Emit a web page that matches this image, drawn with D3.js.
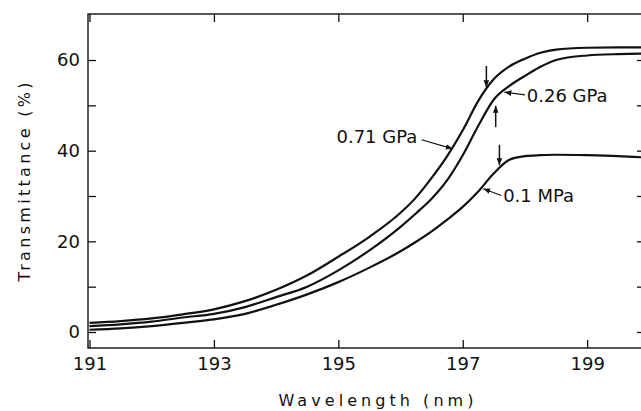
<!DOCTYPE html>
<html>
<head>
<meta charset="utf-8">
<script src="https://cdn.jsdelivr.net/npm/d3@7"></script>
<style>
  body { margin: 0; background: #fff; }
  svg { display: block; }
  text { font-family: "DejaVu Sans", sans-serif; fill: #111; }
</style>
</head>
<body>
<div id="chart"></div>
<script>
// wavelengths (nm)
const wavelengths = [191, 191.5, 192, 192.5, 193, 193.5, 194, 194.5, 195, 195.5, 196, 196.25, 196.5, 196.75, 197, 197.25, 197.5, 197.75, 198, 198.25, 198.5, 199, 199.5, 199.93];

// transmittance (%) for each pressure
const t071 = [2.0, 2.4, 3.0, 3.9, 5.0, 6.8, 9.3, 12.5, 16.6, 21.0, 26.3, 29.7, 34.0, 38.8, 44.5, 51.0, 55.8, 58.6, 60.3, 61.6, 62.3, 62.7, 62.8, 62.8];
const t026 = [1.3, 1.7, 2.3, 3.2, 4.0, 5.5, 7.7, 10.0, 13.6, 18.0, 23.2, 26.2, 29.4, 33.5, 39.0, 45.5, 51.3, 54.3, 56.5, 58.5, 60.0, 61.0, 61.3, 61.4];
const t01 = [0.5, 0.8, 1.3, 2.0, 2.8, 4.0, 6.0, 8.3, 11.0, 14.2, 17.8, 19.9, 22.2, 24.8, 27.6, 31.0, 35.0, 38.0, 38.8, 39.0, 39.1, 39.0, 38.8, 38.5];

const xTicks = [191, 193, 195, 197, 199];
const yTicks = [0, 10, 20, 30, 40, 50, 60];

// markers on the knees: [wavelength, tail T, tip T]
const arrows = [[197.38, 58.7, 54.0], [197.53, 45.2, 49.9], [197.59, 41.3, 36.8]];

// curve labels: text, text wl, text T, leader start wl/T, leader end wl/T
const labels = [
  ["0.71 GPa", 194.97, 41.6, 196.34, 42.4, 196.84, 40.4],
  ["0.26 GPa", 198.03, 50.8, 198.00, 52.3, 197.67, 52.9],
  ["0.1 MPa", 197.65, 28.7, 197.62, 30.1, 197.33, 31.6]
];

const W = 641, H = 411;
const svg = d3.select("#chart").append("svg")
  .attr("width", W).attr("height", H);

const x = d3.scaleLinear().domain([190.976, 199.93]).range([88, 645]);
const y = d3.scaleLinear().domain([-3.53, 70.15]).range([348, 14]);

const ink = "#111";

svg.append("defs").append("marker")
  .attr("id", "head")
  .attr("viewBox", "0 0 10 10")
  .attr("refX", 10).attr("refY", 5)
  .attr("markerWidth", 7).attr("markerHeight", 7)
  .attr("markerUnits", "userSpaceOnUse")
  .attr("orient", "auto")
  .append("path").attr("d", "M0,1 L10,5 L0,9 Z").attr("fill", ink);

// frame
svg.append("rect")
  .attr("x", x.range()[0]).attr("y", y.range()[1])
  .attr("width", x.range()[1] - x.range()[0])
  .attr("height", y.range()[0] - y.range()[1])
  .attr("fill", "none").attr("stroke", ink).attr("stroke-width", 1.4);

// axes with inward ticks
const gx = svg.append("g")
  .attr("transform", `translate(0,${y.range()[0]})`)
  .call(d3.axisBottom(x).tickValues(xTicks).tickSizeInner(-8).tickSizeOuter(0).tickPadding(9).tickFormat(d3.format("d")));
const gxt = svg.append("g")
  .attr("transform", `translate(0,${y.range()[1]})`)
  .call(d3.axisTop(x).tickValues(xTicks).tickSizeInner(-8).tickSizeOuter(0).tickFormat(""));
const gy = svg.append("g")
  .attr("transform", `translate(${x.range()[0]},0)`)
  .call(d3.axisLeft(y).tickValues(yTicks).tickSizeInner(-8).tickSizeOuter(0).tickPadding(8)
    .tickFormat(d => d % 20 === 0 ? d : ""));
const gyr = svg.append("g")
  .attr("transform", `translate(${x.range()[1]},0)`)
  .call(d3.axisRight(y).tickValues(yTicks).tickSizeInner(-8).tickSizeOuter(0).tickFormat(""));

[gx, gxt, gy, gyr].forEach(g => {
  g.select(".domain").remove();
  g.selectAll(".tick line").attr("stroke", ink).attr("stroke-width", 1.3);
  g.selectAll("text").attr("font-size", 18).attr("font-family", "DejaVu Sans").attr("fill", ink);
});

// curves
const line = d3.line()
  .x((d, i) => x(wavelengths[i]))
  .y(d => y(d))
  .curve(d3.curveMonotoneX);

[t071, t026, t01].forEach(s => {
  svg.append("path")
    .datum(s)
    .attr("d", line)
    .attr("fill", "none")
    .attr("stroke", ink)
    .attr("stroke-width", 2.2)
    .attr("stroke-linejoin", "round");
});

// knee arrows
svg.selectAll(".knee").data(arrows).join("line")
  .attr("class", "knee")
  .attr("x1", d => x(d[0])).attr("x2", d => x(d[0]))
  .attr("y1", d => y(d[1])).attr("y2", d => y(d[2]))
  .attr("stroke", ink).attr("stroke-width", 1.5)
  .attr("marker-end", "url(#head)");

// labels with leaders
svg.selectAll(".lead").data(labels).join("line")
  .attr("class", "lead")
  .attr("x1", d => x(d[3])).attr("y1", d => y(d[4]))
  .attr("x2", d => x(d[5])).attr("y2", d => y(d[6]))
  .attr("stroke", ink).attr("stroke-width", 1.2)
  .attr("marker-end", "url(#head)");

svg.selectAll(".lab").data(labels).join("text")
  .attr("class", "lab")
  .attr("x", d => x(d[1])).attr("y", d => y(d[2]))
  .attr("font-size", 18)
  .text(d => d[0]);

// axis titles
svg.append("text")
  .attr("x", 376).attr("y", 406)
  .attr("text-anchor", "middle")
  .attr("font-size", 16)
  .attr("textLength", 195).attr("lengthAdjust", "spacing")
  .text("Wavelength (nm)");

svg.append("text")
  .attr("transform", "translate(30,182) rotate(-90)")
  .attr("text-anchor", "middle")
  .attr("font-size", 16)
  .attr("textLength", 199).attr("lengthAdjust", "spacing")
  .text("Transmittance (%)");
</script>
</body>
</html>
